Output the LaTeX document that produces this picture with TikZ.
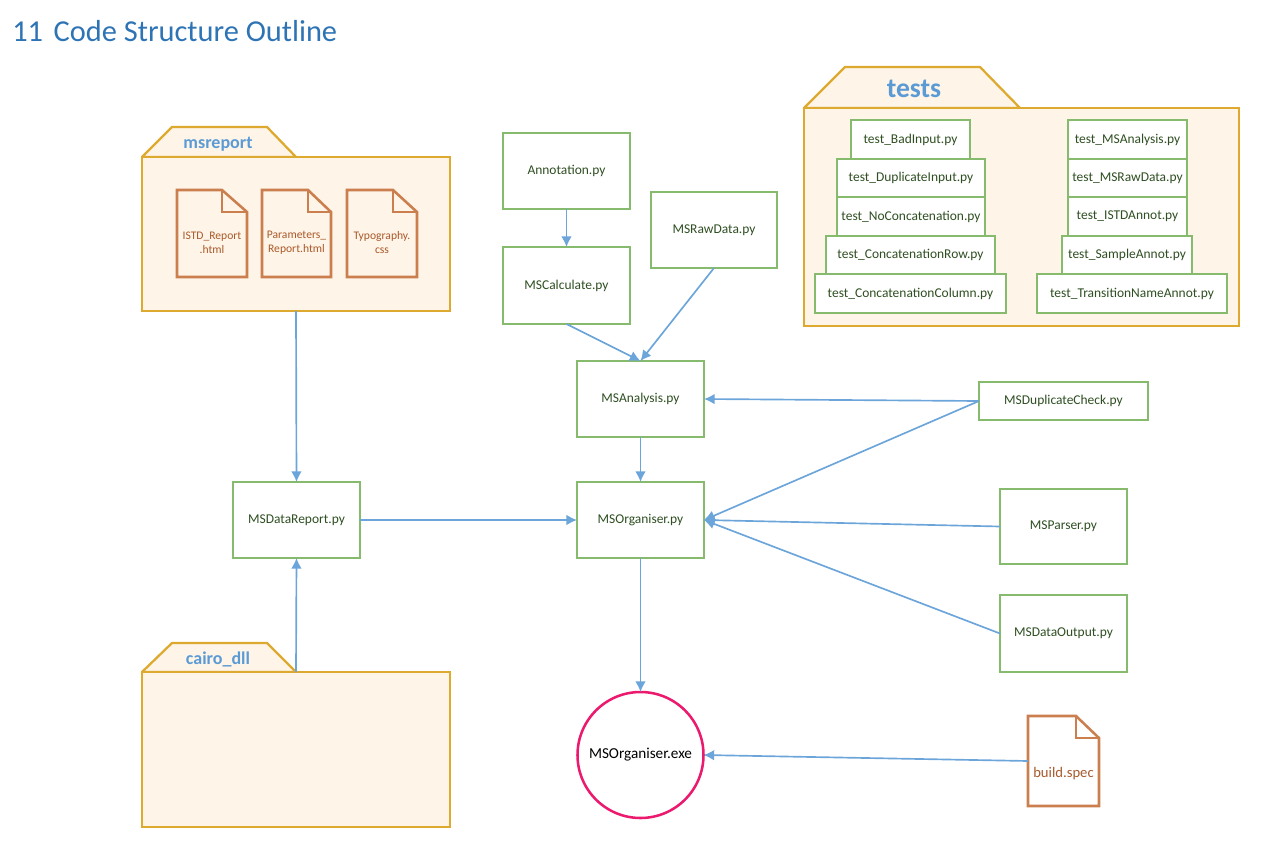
\documentclass[tikz,border=0pt]{standalone}
\usepackage{fontspec}
\setmainfont{Carlito}
\usetikzlibrary{arrows.meta}
\definecolor{foldfill}{HTML}{FEF4E7}
\definecolor{foldline}{HTML}{DDA92F}
\definecolor{pyline}{HTML}{86BA6C}
\definecolor{pytext}{HTML}{2F4F22}
\definecolor{docline}{HTML}{CB7F4E}
\definecolor{doctext}{HTML}{A9592B}
\definecolor{arrowblue}{HTML}{6CA5DA}
\definecolor{labelblue}{HTML}{5B9BD5}
\definecolor{titleblue}{HTML}{2E74B5}
\definecolor{ringpink}{HTML}{EC1A6E}
\tikzset{
  pybox/.style 2 args={draw=pyline,line width=0.95pt,fill=white,text=pytext,inner sep=0pt,outer sep=0pt,
    minimum width={#1*0.75pt},minimum height={#2*0.75pt},font=\fontsize{10.1}{12}\selectfont},
  folderbody/.style 2 args={draw=foldline,line width=1.7pt,fill=foldfill,inner sep=0pt,outer sep=0pt,
    minimum width={#1*0.75pt},minimum height={#2*0.75pt}},
  foldertab/.style={draw=foldline,line width=1.7pt,fill=foldfill,line join=round},
  folderlabel/.style={text=labelblue,font=\bfseries\fontsize{#1}{#1}\selectfont,inner sep=0pt},
  docpath/.style={draw=docline,line width=1.9pt,line join=miter},
  doclabel/.style 2 args={text=doctext,align=center,inner sep=0pt,outer sep=0pt,
    minimum width={#1*0.75pt},minimum height={#2*0.75pt},font=\fontsize{8.7}{10.5}\selectfont},
  link/.style={draw=arrowblue,line width=1.25pt,-{Latex[length=8pt,width=8pt]}},
}
\begin{document}
\begin{tikzpicture}[x=0.75pt,y=-0.75pt]
\useasboundingbox (0,0) rectangle (1283,850);
\node (title) [anchor=west,text=titleblue,inner sep=0pt,font=\fontsize{22.8}{26}\selectfont] at (12,31) {11\hspace{0.35em}Code Structure Outline};

% msreport folder
\draw[foldertab] (142,157) -- (172,127) -- (267,127) -- (296,157) -- cycle;
\node (msreport) [folderbody={308}{154}] at (296,234) {};
\node (msreportlabel) [folderlabel=13.5] at (218,144.5) {msreport};
\node (istd) [doclabel={70}{87}] at (212,233.5) {\\[9pt]ISTD\_Report\\.html};
\draw[docpath] (istd.north west) -- (222,190) -- (247,212) -- (istd.south east) -- (istd.south west) -- cycle;
\draw[docpath] (222,190) -- (222,212) -- (247,212);
\node (params) [doclabel={69}{87}] at (296.5,233.5) {\\[9pt]Parameters\_\\Report.html};
\draw[docpath] (params.north west) -- (308,190) -- (331,212) -- (params.south east) -- (params.south west) -- cycle;
\draw[docpath] (308,190) -- (308,212) -- (331,212);
\node (typo) [doclabel={70}{87}] at (382,233.5) {\\[9pt]Typography.\\css};
\draw[docpath] (typo.north west) -- (393,190) -- (417,212) -- (typo.south east) -- (typo.south west) -- cycle;
\draw[docpath] (393,190) -- (393,212) -- (417,212);

% cairo folder
\draw[foldertab] (142,672) -- (172,643) -- (267,643) -- (296,672) -- cycle;
\node (cairo) [folderbody={308}{155}] at (296,749.5) {};
\node (cairolabel) [folderlabel=13.5] at (218,659.5) {cairo\_dll};

% tests folder
\draw[foldertab] (804,108) -- (845,67) -- (980,67) -- (1020,108) -- cycle;
\node (tests) [folderbody={435}{218}] at (1021.5,217) {};
\node (testslabel) [folderlabel=20.7] at (914,89) {tests};
\node (t1) [pybox={119}{39}] at (910.5,139.5) {test\_BadInput.py};
\node (t2) [pybox={148}{38}] at (911,178) {test\_DuplicateInput.py};
\node (t3) [pybox={148}{39}] at (911,216.5) {test\_NoConcatenation.py};
\node (t4) [pybox={169}{38}] at (910.5,255) {test\_ConcatenationRow.py};
\node (t5) [pybox={191}{39}] at (910.5,293.5) {test\_ConcatenationColumn.py};
\node (u1) [pybox={119}{39}] at (1127.5,139.5) {test\_MSAnalysis.py};
\node (u2) [pybox={119}{38}] at (1127.5,178) {test\_MSRawData.py};
\node (u3) [pybox={119}{39}] at (1127.5,216.5) {test\_ISTDAnnot.py};
\node (u4) [pybox={130}{38}] at (1127,255) {test\_SampleAnnot.py};
\node (u5) [pybox={190}{39}] at (1132,293.5) {test\_TransitionNameAnnot.py};

% modules
\node (ann) [pybox={127}{76}] at (566.5,171) {Annotation.py};
\node (calc) [pybox={127}{77}] at (566.5,285.5) {MSCalculate.py};
\node (raw) [pybox={126}{76}] at (714,230) {MSRawData.py};
\node (ana) [pybox={127}{76}] at (640.5,399) {MSAnalysis.py};
\node (org) [pybox={127}{76}] at (640.5,520) {MSOrganiser.py};
\node (rep) [pybox={127}{76}] at (296.5,520) {MSDataReport.py};
\node (dup) [pybox={169}{38}] at (1063.5,401) {MSDuplicateCheck.py};
\node (par) [pybox={127}{75}] at (1063.5,526.5) {MSParser.py};
\node (out) [pybox={127}{77}] at (1063.5,633.5) {MSDataOutput.py};
\node (exe) [circle,draw=ringpink,line width=1.9pt,fill=white,minimum size={126*0.75pt},inner sep=0pt,outer sep=0pt,font=\fontsize{11.4}{13}\selectfont] at (640.5,755) {MSOrganiser.exe};

% build.spec
\node (spec) [doclabel={71}{90},font=\fontsize{11}{13}\selectfont] at (1063.5,761) {\\[14pt]build.spec};
\draw[docpath] (spec.north west) -- (1076,716) -- (1099,738) -- (spec.south east) -- (spec.south west) -- cycle;
\draw[docpath] (1076,716) -- (1076,738) -- (1099,738);

% connectors
\draw[link] (ann.south) -- (calc.north);
\draw[link] (calc.south) -- (ana.north);
\draw[link] (raw.south) -- (ana.north);
\draw[link] (ana.south) -- (org.north);
\draw[link] (dup.west) -- (ana.east);
\draw[link] (dup.west) -- (org.east);
\draw[link] (par.west) -- (org.east);
\draw[link] (out.west) -- (org.east);
\draw[link] (rep.east) -- (org.west);
\draw[link] (msreport.south) -- (rep.north);
\draw[link] (cairo.north) -- (rep.south);
\draw[link] (org.south) -- (exe.north);
\draw[link] (spec.west) -- (exe.east);
\end{tikzpicture}
\end{document}
